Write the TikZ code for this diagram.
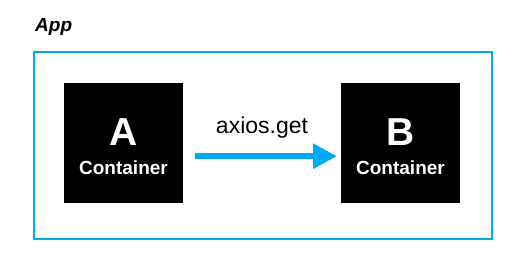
\documentclass[tikz,border=0pt]{standalone}
\usepackage{fontspec}
\setmainfont{Liberation Sans}
\usetikzlibrary{arrows.meta}
\definecolor{appblue}{RGB}{3,169,244}
\tikzset{
  container/.style={fill=black, draw=none, minimum width=119pt, minimum height=120pt, inner sep=0pt},
  bigletter/.style={text=white, font=\bfseries\fontsize{39}{39}\selectfont, anchor=base, inner sep=0pt},
  smalllabel/.style={text=white, font=\bfseries\fontsize{19}{19}\selectfont, anchor=base, inner sep=0pt},
  callarrow/.style={draw=appblue, line width=6pt, -{Triangle[length=24pt,width=24pt]}},
  frame/.style={draw=appblue, line width=2pt}
}
\begin{document}
\begin{tikzpicture}[x=1pt,y=-1pt]
  \useasboundingbox (0,0) rectangle (521,268);
  \node[font=\bfseries\itshape\fontsize{19}{19}\selectfont, anchor=base west, inner sep=0pt] (applabel) at (35,31) {App};
  \node[frame, minimum width=458pt, minimum height=187pt, inner sep=0pt, anchor=north west] (app) at (33,51) {};
  \node[container, anchor=north west] (A) at (64,83) {};
  \node[container, anchor=north west] (B) at (341,83) {};
  \node[bigletter] (Aletter) at (123.5,145) {A};
  \node[smalllabel] (Atext) at (123.5,174) {Container};
  \node[bigletter] (Bletter) at (400.5,145) {B};
  \node[smalllabel] (Btext) at (400.5,174) {Container};
  \draw[callarrow, shorten <=12pt, shorten >=4pt] ([yshift=-13pt]A.east) -- ([yshift=-13pt]B.west);
  \node[font=\fontsize{23}{23}\selectfont, anchor=base, inner sep=0pt] (get) at (262,133) {axios.get};
\end{tikzpicture}
\end{document}
